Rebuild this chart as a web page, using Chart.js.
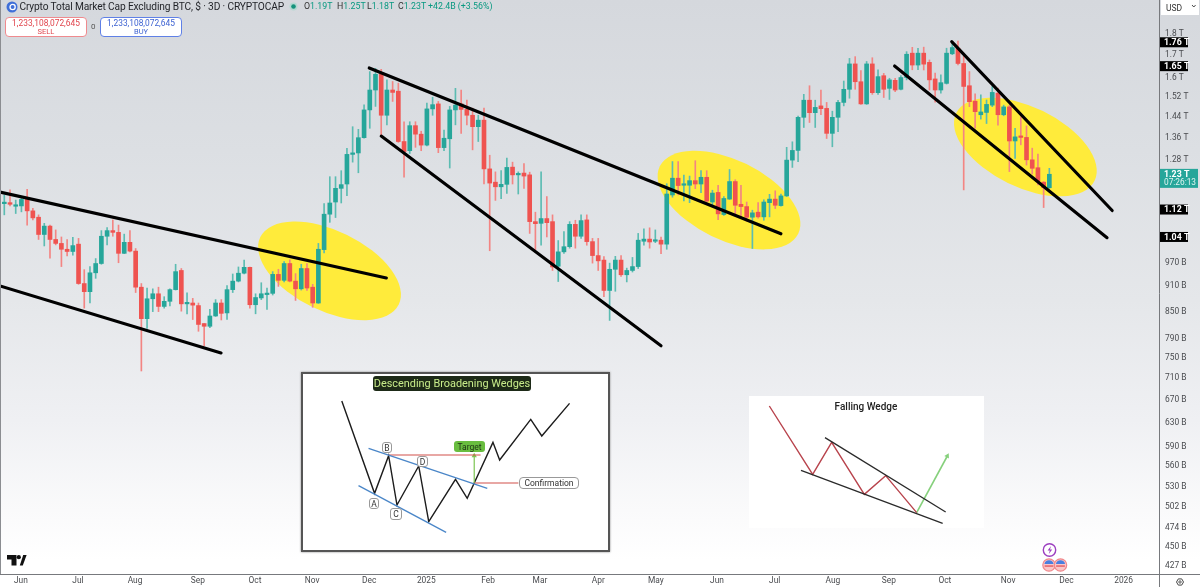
<!DOCTYPE html>
<html>
<head>
<meta charset="utf-8">
<title>Crypto Total Market Cap Excluding BTC</title>
<script src="https://cdn.jsdelivr.net/npm/chart.js@4"></script>
<style>
html,body{margin:0;padding:0;width:1200px;height:587px;overflow:hidden}
body{position:relative;font-family:Roboto,sans-serif;color:#222;
background:linear-gradient(180deg,#d5d8dd 0,#dcdfe3 150px,#e5e7ea 300px,#eff0f3 420px,#fafafb 510px,#fff 560px)}
#main{position:absolute;left:0;top:0}
.abs{position:absolute;white-space:nowrap;line-height:1}
.inset{position:absolute;background:#fff;box-sizing:border-box}
.pill{position:absolute;box-sizing:border-box;display:flex;align-items:center;justify-content:center;white-space:nowrap}
.mk{background:#fff;border:1px solid #999;border-radius:3px;font-size:8.5px;color:#333}
.btn{position:absolute;top:17px;width:82px;height:20px;box-sizing:border-box;background:#fff;border-radius:4px;text-align:center;line-height:1}
.btn b{display:block;font-weight:400;font-size:8.4px;margin-top:0.5px}
.btn i{display:block;font-style:normal;font-size:7.5px;margin-top:1px}
.v{color:#089981}
</style>
</head>
<body>
<canvas id="main" width="1200" height="587"></canvas>

<svg class="abs" style="left:0;top:0" width="1200" height="587" pointer-events="none">
  <line x1="0.5" y1="0" x2="0.5" y2="574" stroke="#8b8d91" stroke-width="1"/>
  <circle cx="12" cy="7" r="5.5" fill="#3f6fd8"/><circle cx="12.6" cy="7" r="2.6" fill="none" stroke="#fff" stroke-width="1.3"/>
  <circle cx="293.5" cy="6.5" r="4" fill="#b6d9d2"/><circle cx="293.5" cy="6.5" r="2.3" fill="#14937c"/>
  <rect x="1161" y="0" width="38" height="15" fill="#fff"/>
  <path d="M1192 5l1.8 2 1.8-2" fill="none" stroke="#333" stroke-width="0.9"/>
  <path d="M7 555h9.5v10.5h-5v-6H7z" fill="#111"/><circle cx="18.8" cy="557.2" r="2.1" fill="#111"/>
  <path d="M19.8 565.5l3.4-10.5h3.4l-3.8 10.5z" fill="#111"/>
  <circle cx="1049.5" cy="550" r="6.2" fill="#fff" stroke="#9c3fc0" stroke-width="1.4"/>
  <path d="M1051 546l-3.4 4.6h2.2l-1 3.4 3.4-4.6h-2.2z" fill="#9c3fc0"/>
  <g id="flag1">
    <circle cx="1049" cy="565" r="6.2" fill="#fbc6c8" stroke="#f0898d" stroke-width="1.2"/>
    <path d="M1044.4 564a4.7 4.7 0 0 1 9.2 0z" fill="#4a7fe0"/>
    <rect x="1044.6" y="565.4" width="8.8" height="1.3" fill="#e2545a"/>
    <circle cx="1060.5" cy="565" r="6.2" fill="#fbc6c8" stroke="#f0898d" stroke-width="1.2"/>
    <path d="M1055.9 564a4.7 4.7 0 0 1 9.2 0z" fill="#4a7fe0"/>
    <rect x="1056.1" y="565.4" width="8.8" height="1.3" fill="#e2545a"/>
  </g>
  <path d="M1176.5 582l1.8-3.1h3.4l1.8 3.1-1.8 3.1h-3.4z" fill="none" stroke="#333" stroke-width="0.9"/>
  <circle cx="1180" cy="582" r="1.2" fill="none" stroke="#333" stroke-width="0.8"/>
</svg>

<div class="abs" style="left:19.5px;top:1.5px;font-size:10.2px;letter-spacing:-.15px;color:#1f2126">Crypto Total Market Cap Excluding BTC, $ · 3D · CRYPTOCAP</div>
<div class="abs" style="left:304px;top:2px;font-size:8.8px;color:#333">O<span class="v">1.19T</span></div>
<div class="abs" style="left:337px;top:2px;font-size:8.8px;color:#333">H<span class="v">1.25T</span></div>
<div class="abs" style="left:367px;top:2px;font-size:8.8px;color:#333">L<span class="v">1.18T</span></div>
<div class="abs" style="left:398px;top:2px;font-size:8.8px;color:#333">C<span class="v">1.23T</span></div>
<div class="abs v" style="left:428px;top:2px;font-size:8.8px">+42.4B (+3.56%)</div>
<div class="btn" style="left:5px;border:1px solid #ef8a8e;color:#e0454d"><b>1,233,108,072,645</b><i>SELL</i></div>
<div class="abs" style="left:91px;top:23px;font-size:8px;color:#555">0</div>
<div class="btn" style="left:100px;border:1px solid #5f80e6;color:#3e63d2"><b>1,233,108,072,645</b><i>BUY</i></div>
<div class="abs" style="left:1166px;top:4px;font-size:8.5px;color:#333">USD</div>

<div class="inset" style="left:301px;top:372px;width:309px;height:180px;border:2px solid #555;box-shadow:0 0 2px #888">
  <canvas id="wedgeA" width="305" height="176" style="display:block"></canvas>
</div>
<div class="pill" style="left:373px;top:376px;width:158px;height:15px;background:#1d2a17;border-radius:3px;color:#c8ec8a;font-size:10.9px">Descending Broadening Wedges</div>
<div class="pill" style="left:454px;top:441px;width:31px;height:11px;background:#69bd3f;border-radius:3px;color:#1d3314;font-size:8.5px">Target</div>
<div class="pill mk" style="left:382px;top:442px;width:10px;height:11px">B</div>
<div class="pill mk" style="left:417px;top:456px;width:11px;height:11px">D</div>
<div class="pill mk" style="left:369px;top:498px;width:10px;height:11px">A</div>
<div class="pill mk" style="left:390px;top:508px;width:12px;height:12px">C</div>
<div class="pill mk" style="left:519px;top:477px;width:60px;height:12px;border-radius:4px">Confirmation</div>

<div class="inset" style="left:749px;top:396px;width:235px;height:132px">
  <canvas id="wedgeB" width="235" height="132" style="display:block"></canvas>
</div>
<div class="abs" style="left:749px;top:402px;width:234px;text-align:center;font-size:10px;font-weight:500;color:#222">Falling Wedge</div>

<script>
/* 3D candles, in billions of USD */
const opens = [1138,1141,1130,1131,1151,1116,1097,1047,1071,1033,
1022,1006,1000,1020,917,897,944,968,1042,1058,
1053,995,1025,1001,908,834,880,892,862,874,
902,950,868,870,864,823,817,840,870,847,
902,923,943,958,866,882,890,893,940,925,
968,923,904,955,908,870,1005,1106,1143,1186,
1200,1300,1305,1360,1466,1547,1614,1445,1547,1542,
1346,1313,1405,1373,1333,1470,1490,1324,1356,1466,
1490,1468,1445,1401,1426,1250,1206,1191,1199,1256,
1230,1236,1230,1084,1079,1093,1084,961,999,1013,
1076,1042,1089,1027,989,977,900,953,977,939,
950,960,1028,1034,1028,1031,1020,1165,1219,1196,
1196,1211,1200,1222,1143,1173,1105,1152,1208,1136,
1129,1097,1112,1098,1141,1152,1132,1162,1280,1314,
1437,1505,1455,1482,1472,1376,1437,1496,1550,1660,
1582,1490,1660,1536,1608,1554,1588,1550,1600,1709,
1655,1709,1667,1594,1547,1575,1706,1732,1662,1565,
1501,1447,1456,1485,1534,1447,1478,1348,1363,1361,
1281,1254,1206,1188];
const closes = [1141,1136,1132,1151,1116,1095,1047,1071,1033,1022,
1006,1000,1016,917,897,944,968,1042,1058,1053,
995,1025,1001,908,834,880,892,862,874,902,
947,868,870,865,821,817,840,870,846,902,
923,943,958,866,883,892,893,940,925,968,
923,904,955,906,870,1006,1106,1140,1186,1198,
1300,1303,1360,1466,1547,1614,1445,1547,1537,1346,
1310,1405,1373,1333,1470,1487,1324,1358,1466,1485,
1468,1445,1401,1426,1250,1203,1191,1199,1255,1230,
1233,1226,1084,1078,1093,1081,959,999,1013,1076,
1042,1087,1027,989,975,900,953,977,939,950,
960,1031,1034,1026,1030,1020,1168,1219,1195,1198,
1211,1200,1222,1146,1171,1107,1154,1208,1133,1129,
1097,1110,1098,1143,1152,1133,1162,1280,1314,1437,
1505,1455,1476,1471,1376,1437,1496,1550,1660,1582,
1490,1660,1536,1604,1550,1590,1547,1600,1704,1655,
1709,1659,1590,1547,1578,1709,1735,1662,1562,1499,
1459,1458,1488,1537,1447,1478,1348,1363,1361,1281,
1252,1208,1188,1232];
const highs = [1165,1181,1149,1160,1183,1124,1104,1079,1074,1060,
1040,1033,1039,1036,952,960,981,1058,1067,1089,
1074,1048,1058,1008,917,906,904,908,885,904,
966,955,894,881,870,823,855,878,878,912,
941,959,977,959,892,919,906,947,953,973,
978,942,966,968,915,1022,1138,1224,1224,1244,
1321,1401,1391,1486,1626,1640,1636,1590,1583,1576,
1420,1420,1420,1384,1493,1517,1500,1388,1480,1554,
1547,1505,1473,1445,1473,1297,1240,1244,1287,1273,
1240,1268,1239,1112,1240,1160,1104,1030,1055,1084,
1088,1104,1104,1036,1036,986,969,987,989,956,
984,1050,1063,1066,1060,1040,1201,1275,1275,1229,
1226,1278,1244,1244,1180,1196,1160,1248,1214,1196,
1143,1118,1141,1150,1167,1178,1168,1325,1345,1442,
1529,1565,1505,1547,1496,1461,1504,1585,1685,1693,
1630,1671,1688,1634,1618,1597,1597,1608,1716,1736,
1731,1737,1678,1619,1612,1732,1763,1766,1696,1626,
1531,1527,1506,1562,1555,1485,1485,1395,1439,1404,
1322,1301,1208,1252];
const lows = [1104,1131,1108,1113,1074,1089,1033,1015,982,1018,
960,988,990,915,858,870,930,966,1018,1042,
970,994,999,895,724,812,850,850,858,863,
901,851,845,832,806,775,814,839,831,832,
895,921,941,858,845,878,855,889,910,921,
921,876,901,900,860,869,996,1082,1096,1140,
1163,1273,1237,1358,1395,1480,1366,1408,1500,1343,
1222,1303,1325,1313,1330,1445,1306,1313,1253,1408,
1376,1408,1316,1346,1200,1002,1148,1153,1170,1200,
1168,1186,1050,1005,1017,1040,950,922,995,1009,
1009,1036,1017,969,950,885,830,898,935,921,
946,955,1017,1009,1024,994,1006,1158,1165,1146,
1141,1185,1172,1142,1134,1090,1102,1151,1102,1099,
1085,1008,1094,1088,1098,1123,1130,1160,1255,1275,
1398,1417,1398,1447,1357,1327,1382,1482,1513,1550,
1488,1488,1529,1529,1516,1508,1540,1547,1590,1634,
1634,1633,1547,1497,1534,1572,1702,1656,1181,1479,
1395,1430,1413,1479,1407,1443,1241,1286,1334,1263,
1233,1197,1126,1186];

/* x axis: positions are candle numbers */
const monthTickIndex = [2.9,12.9,22.9,33.9,43.9,53.9,63.9,73.9,84.7,93.8,104,114.1,124.8,134.9,145.1,154.9,164.7,175.8,186,196];
const monthTickLabels = ["Jun","Jul","Aug","Sep","Oct","Nov","Dec","2025","Feb","Mar","Apr","May","Jun","Jul","Aug","Sep","Oct","Nov","Dec","2026"];
/* y axis, billions */
const priceTicks = [1800,1700,1600,1520,1440,1360,1280,970,910,850,790,750,710,670,630,590,560,530,502,474,450,427];
const levelTags = [1760,1650,1120,1040];
const lastPrice = 1230;
const countdown = "07:26:13";

/* drawn trendlines: [candle number, price in billions] pairs */
const trendLow1  = [[-0.75,911],[37.95,760]];
const trendHigh1 = [[-0.75,1174],[66.9,931]];
const trendHigh2 = [[63.9,1642],[136,1049]];
const trendLow2  = [[66,1366],[115,775]];
const trendHigh3 = [[165.9,1763],[194,1117]];
const trendLow3  = [[155.9,1651],[193.1,1038]];
const trendLines = [trendLow1,trendHigh1,trendHigh2,trendLow2,trendHigh3,trendLow3];
/* highlight ellipses: centre [candle number, price] */
const highlights = [[56.95,949],[126.9,1149],[178.8,1326]];

/* inset diagrams, in the diagrams' own units */
const wedgePath = [[140,108],[238,385],[280,272],[305,420],[370,303],[400,470],[480,343],[515,400],[592,232],[612,285],[705,163],[738,213],[821,115]];
const wedgeUpper = [[220,250],[575,370]];
const wedgeLower = [[190,362],[452,502]];
const wedgeTarget = [[280,270],[555,270]];
const wedgeConfirm = [[537,354],[668,354]];
const wedgeRise = [[536,354],[536,272]];
const fallingPath = [[88,48],[218,253],[275,157],[373,313],[437,257],[530,368]];
const fallingUpper = [[255,143],[617,366]];
const fallingLower = [[183,241],[608,400]];
const fallingBreak = [[530,368],[622,198]];

const GREEN="#26a69a", RED="#ef5350", GREEN_W="#5cbcb2", RED_W="#f38583";
const AXIS_FONT='Roboto,sans-serif';
const xy = a => a.map(p => ({x:p[0], y:p[1]}));
const fmt = v => v>=1000 ? (v/1000)+" T" : v+" B";
const up = i => closes[i]>=opens[i];

const annotations = {
  id:"annotations",
  beforeInit(c){ c.ctx.letterSpacing="-0.4px"; },
  beforeDatasetsDraw(c){
    const {ctx,scales:{x,y}} = c;
    ctx.save(); ctx.fillStyle="#ffeb3b";
    highlights.forEach(h=>{
      ctx.beginPath();
      ctx.ellipse(x.getPixelForValue(h[0]),y.getPixelForValue(h[1]),77,40,26*Math.PI/180,0,Math.PI*2);
      ctx.fill();
    });
    ctx.restore();
  },
  afterDraw(c){
    const {ctx,scales:{y},chartArea:a} = c;
    ctx.save();
    ctx.strokeStyle="#77797d"; ctx.lineWidth=1;
    ctx.beginPath();
    ctx.moveTo(0,a.bottom+.5); ctx.lineTo(1200,a.bottom+.5);
    ctx.moveTo(a.right+.5,0); ctx.lineTo(a.right+.5,587);
    ctx.stroke();
    ctx.textBaseline="middle"; ctx.textAlign="left";
    ctx.font='700 8.8px '+AXIS_FONT;
    levelTags.forEach(v=>{
      const p=y.getPixelForValue(v);
      ctx.fillStyle="#000"; ctx.fillRect(a.right+1,p-5,28,10);
      ctx.fillStyle="#fff"; ctx.fillText(fmt(v),a.right+5,p+.5);
    });
    const p=y.getPixelForValue(lastPrice);
    ctx.fillStyle=GREEN; ctx.fillRect(a.right+1,p-6,38,19);
    ctx.fillStyle="#fff"; ctx.fillText(fmt(lastPrice),a.right+5,p-.5);
    ctx.font='400 8.3px '+AXIS_FONT;
    ctx.fillStyle="#dff5f1"; ctx.fillText(countdown,a.right+5,p+8);
    ctx.restore();
  }
};

new Chart(document.getElementById("main"),{
  type:"bar",
  plugins:[annotations],
  data:{datasets:[
    ...trendLines.map(t=>({type:"line",data:xy(t),borderColor:"#000",borderWidth:3.1,borderCapStyle:"round",pointRadius:0,tension:0,order:0,clip:false})),
    {type:"bar",grouped:false,order:1,barThickness:4,minBarLength:1.5,borderWidth:0,
     data:opens.map((o,i)=>({x:i,y:[Math.min(o,closes[i]),Math.max(o,closes[i])]})),
     backgroundColor:opens.map((o,i)=>up(i)?GREEN:RED)},
    {type:"bar",grouped:false,order:2,barThickness:1,borderWidth:0,
     data:opens.map((o,i)=>({x:i,y:[lows[i],highs[i]]})),
     backgroundColor:opens.map((o,i)=>up(i)?GREEN_W:RED_W)}
  ]},
  options:{
    responsive:false,animation:false,devicePixelRatio:1,
    layout:{padding:0,autoPadding:false},
    plugins:{legend:{display:false},tooltip:{enabled:false},title:{display:false}},
    scales:{
      x:{type:"linear",position:"bottom",min:-0.753,max:202.2,offset:false,
        grid:{display:false,drawTicks:false},border:{display:false},
        afterBuildTicks(s){s.ticks=monthTickIndex.map(v=>({value:v}));},
        afterFit(s){s.height=13;s.paddingLeft=0;s.paddingRight=0;},
        ticks:{autoSkip:false,maxRotation:0,minRotation:0,padding:2,color:"#4a4c50",
          font:{family:AXIS_FONT,size:8.4},
          callback(v){return monthTickLabels[monthTickIndex.indexOf(v)];}}},
      y:{type:"logarithmic",position:"right",min:418.3,max:1973,
        grid:{display:false,drawTicks:false},border:{display:false},
        afterBuildTicks(s){s.ticks=priceTicks.map(v=>({value:v}));},
        afterFit(s){s.width=41;s.paddingTop=0;s.paddingBottom=0;},
        ticks:{autoSkip:false,padding:6,color:"#4a4c50",crossAlign:"near",
          font:{family:AXIS_FONT,size:8.4},
          callback(v){return fmt(v);}}}
    }
  }
});

function diagram(id,xr,yr,series){
  new Chart(document.getElementById(id),{
    type:"scatter",
    data:{datasets:series.map(s=>({data:xy(s.d),showLine:true,borderColor:s.c,borderWidth:s.w,tension:0,
      pointRadius:s.d.map((p,i)=>s.arrow&&i===s.d.length-1?3:0),pointStyle:"triangle",pointRotation:s.rot||0,
      pointBackgroundColor:s.c,pointBorderWidth:0}))},
    options:{responsive:false,animation:false,devicePixelRatio:1,layout:{padding:0,autoPadding:false},
      plugins:{legend:{display:false},tooltip:{enabled:false}},
      scales:{x:{type:"linear",display:false,min:xr[0],max:xr[1]},
              y:{type:"linear",display:false,min:yr[0],max:yr[1],reverse:true}}}
  });
}
diagram("wedgeA",[24,936],[27,555],[
  {d:wedgeUpper,c:"#4a86c8",w:1.3},{d:wedgeLower,c:"#4a86c8",w:1.3},
  {d:wedgeTarget,c:"#d2504a",w:1.2},{d:wedgeConfirm,c:"#d2504a",w:1.2},
  {d:wedgeRise,c:"#7cc552",w:1.2,arrow:true},
  {d:wedgePath,c:"#1c1c1c",w:1.4}]);
diagram("wedgeB",[27,732],[18,414],[
  {d:fallingUpper,c:"#2a2a2a",w:1.3},{d:fallingLower,c:"#2a2a2a",w:1.3},
  {d:fallingPath,c:"#b8434c",w:1.4},
  {d:fallingBreak,c:"#86d07c",w:1.6,arrow:true,rot:28}]);
</script>
</body>
</html>
